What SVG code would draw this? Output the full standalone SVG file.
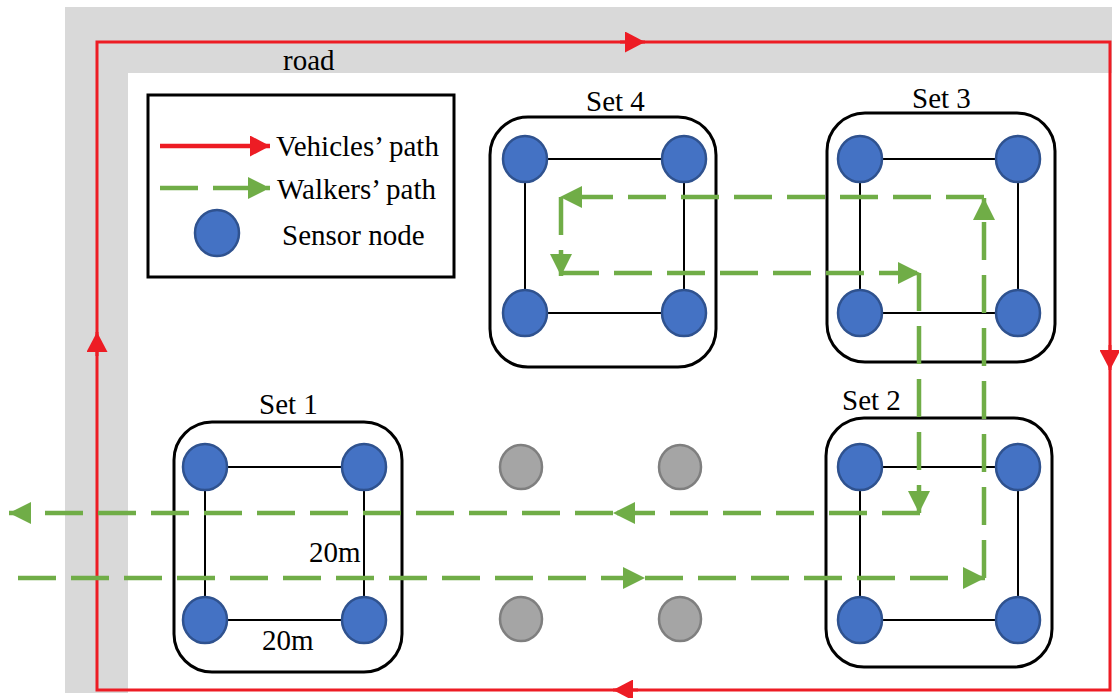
<svg xmlns="http://www.w3.org/2000/svg" width="1119" height="698" viewBox="0 0 1119 698">
  <defs>
    <style>
      .txt { font-family: "Liberation Serif", "Times New Roman", serif; font-size: 29px; fill: #000; }
      .road { fill: #d9d9d9; }
      .vehicle { fill: none; stroke: #ed1c24; stroke-width: 3; }
      .walker { fill: none; stroke: #70ad47; stroke-width: 4.5; stroke-dasharray: 38 15; }
      .set-box { fill: none; stroke: #000; stroke-width: 3; }
      .link { fill: none; stroke: #000; stroke-width: 2; }
      .sensor { fill: #4472c4; stroke: #2f528f; stroke-width: 2.5; }
      .idle { fill: #a5a5a5; stroke: #7f7f7f; stroke-width: 2.5; }
    </style>
    <marker id="red-head" markerUnits="userSpaceOnUse" markerWidth="20" markerHeight="21" viewBox="0 0 20 21" refX="20" refY="10.5" orient="auto">
      <path d="M0,0 L20,10.5 L0,21 Z" fill="#ed1c24"/>
    </marker>
    <marker id="green-head" markerUnits="userSpaceOnUse" markerWidth="22" markerHeight="22" viewBox="0 0 22 22" refX="22" refY="11" orient="auto">
      <path d="M0,0 L22,11 L0,22 Z" fill="#70ad47"/>
    </marker>
  </defs>

  <rect width="1119" height="698" fill="#fff"/>

  <!-- road band along the top and left edges -->
  <g id="road">
    <path class="road" d="M65,7 H1112 V73 H128 V693 H65 Z"/>
    <text class="txt" x="283" y="70">road</text>
  </g>

  <!-- legend -->
  <g id="legend">
    <rect x="148" y="95" width="306" height="182" fill="#fff" stroke="#000" stroke-width="3"/>
    <path d="M160,146 H270" fill="none" stroke="#ed1c24" stroke-width="4.5" marker-end="url(#red-head)"/>
    <text class="txt" x="276" y="156">Vehicles’ path</text>
    <path class="walker" d="M160,188 H270" stroke-width="4" marker-end="url(#green-head)"/>
    <text class="txt" x="277" y="199">Walkers’ path</text>
    <ellipse class="sensor" cx="217" cy="233" rx="22" ry="23"/>
    <text class="txt" x="282" y="245">Sensor node</text>
  </g>

  <!-- sensor sets -->
  <g id="set1">
    <rect class="set-box" x="174" y="422" width="228" height="250" rx="38" ry="38"/>
    <text class="txt" x="259" y="414">Set 1</text>
    <rect class="link" x="205" y="467" width="159" height="153"/>
    <text class="txt" x="309" y="562">20m</text>
    <text class="txt" x="262" y="650">20m</text>
  </g>
  <g id="set2">
    <rect class="set-box" x="826" y="418" width="226" height="249" rx="38" ry="38"/>
    <text class="txt" x="842" y="410">Set 2</text>
    <rect class="link" x="860" y="467" width="158" height="153"/>
  </g>
  <g id="set3">
    <rect class="set-box" x="827" y="113" width="228" height="249" rx="38" ry="38"/>
    <text class="txt" x="912" y="108">Set 3</text>
    <rect class="link" x="860" y="159" width="158" height="154"/>
  </g>
  <g id="set4">
    <rect class="set-box" x="490" y="117" width="226" height="250" rx="38" ry="38"/>
    <text class="txt" x="586" y="111">Set 4</text>
    <rect class="link" x="525" y="159" width="159" height="154"/>
  </g>

  <!-- connectors: vehicle loop and walker route -->
  <g id="connectors">
    <path class="vehicle" d="M97,42 H1110 V690 H97 Z"/>
    <path class="vehicle" d="M620,42 H645" marker-end="url(#red-head)"/>
    <path class="vehicle" d="M1110,345 V370" marker-end="url(#red-head)"/>
    <path class="vehicle" d="M638,690 H613" marker-end="url(#red-head)"/>
    <path class="vehicle" d="M97,356 V332" marker-end="url(#red-head)"/>

    <path class="walker" d="M18,578 H645" marker-end="url(#green-head)"/>
    <path class="walker" d="M645,578 H985" marker-end="url(#green-head)"/>
    <path class="walker" d="M984,578 V198" marker-end="url(#green-head)"/>
    <path class="walker" d="M984,197 H560" marker-end="url(#green-head)"/>
    <path class="walker" d="M561,197 V276" marker-end="url(#green-head)"/>
    <path class="walker" d="M561,273 H920" marker-end="url(#green-head)"/>
    <path class="walker" d="M919,273 V513" marker-end="url(#green-head)"/>
    <path class="walker" d="M920,513 H613" marker-end="url(#green-head)"/>
    <path class="walker" d="M613,513 H9" marker-end="url(#green-head)"/>
  </g>

  <!-- sensor nodes -->
  <g id="nodes">
    <g id="set1-nodes">
      <ellipse class="sensor" cx="205" cy="467" rx="22" ry="23"/>
      <ellipse class="sensor" cx="364" cy="467" rx="22" ry="23"/>
      <ellipse class="sensor" cx="205" cy="620" rx="22" ry="23"/>
      <ellipse class="sensor" cx="364" cy="620" rx="22" ry="23"/>
    </g>
    <g id="set2-nodes">
      <ellipse class="sensor" cx="860" cy="467" rx="22" ry="23"/>
      <ellipse class="sensor" cx="1018" cy="467" rx="22" ry="23"/>
      <ellipse class="sensor" cx="860" cy="620" rx="22" ry="23"/>
      <ellipse class="sensor" cx="1018" cy="620" rx="22" ry="23"/>
    </g>
    <g id="set3-nodes">
      <ellipse class="sensor" cx="860" cy="159" rx="22" ry="23"/>
      <ellipse class="sensor" cx="1018" cy="159" rx="22" ry="23"/>
      <ellipse class="sensor" cx="860" cy="313" rx="22" ry="23"/>
      <ellipse class="sensor" cx="1018" cy="313" rx="22" ry="23"/>
    </g>
    <g id="set4-nodes">
      <ellipse class="sensor" cx="525" cy="159" rx="22" ry="23"/>
      <ellipse class="sensor" cx="684" cy="159" rx="22" ry="23"/>
      <ellipse class="sensor" cx="525" cy="313" rx="22" ry="23"/>
      <ellipse class="sensor" cx="684" cy="313" rx="22" ry="23"/>
    </g>
    <g id="idle-nodes">
      <ellipse class="idle" cx="521" cy="467" rx="21" ry="22"/>
      <ellipse class="idle" cx="680" cy="467" rx="21" ry="22"/>
      <ellipse class="idle" cx="521" cy="619" rx="21" ry="22"/>
      <ellipse class="idle" cx="680" cy="619" rx="21" ry="22"/>
    </g>
  </g>
</svg>
